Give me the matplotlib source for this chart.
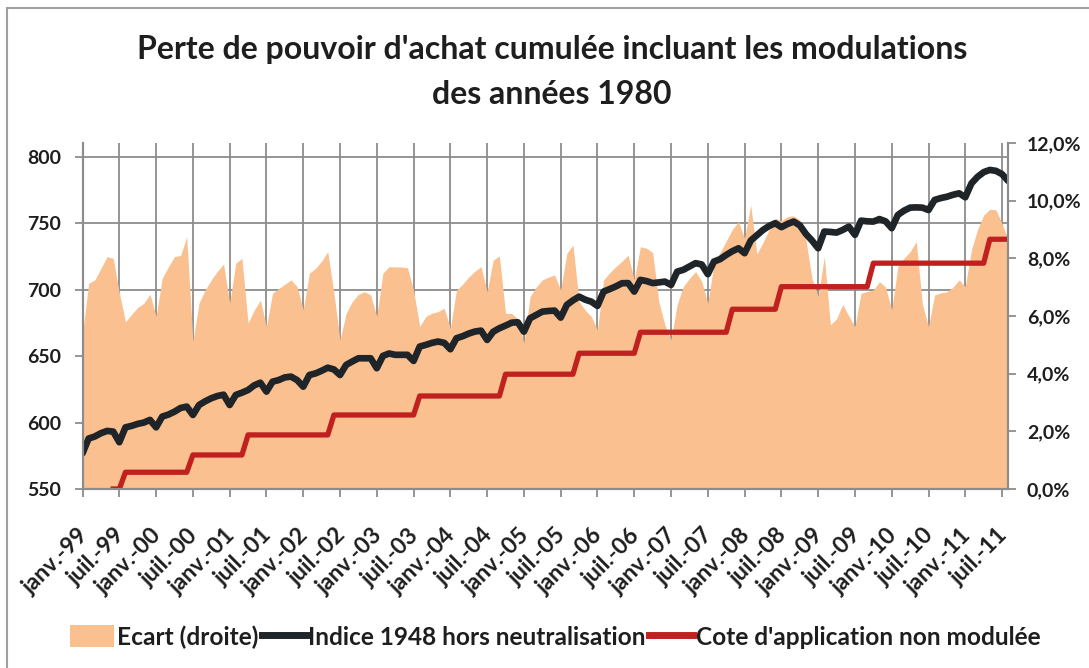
import numpy as np
import matplotlib
matplotlib.use("Agg")
import matplotlib.pyplot as plt
from matplotlib.patches import Patch, Rectangle
from matplotlib.lines import Line2D
from matplotlib.ticker import FuncFormatter
from matplotlib.transforms import ScaledTranslation

plt.rcParams["font.family"] = ["Lato", "DejaVu Sans"]
plt.rcParams["font.weight"] = "bold"

# valeurs mensuelles, janv. 1999 -> août 2011
indice_1948 = [
    576.9, 588.0, 589.5, 592.0, 593.7, 593.2, 585.2, 596.4, 597.5, 599.0, 600.0, 602.0,  # 1999
    596.4, 604.5, 606.0, 608.2, 611.0, 612.0, 605.7, 613.2, 616.0, 618.3, 620.0, 621.0,  # 2000
    613.2, 620.8, 622.5, 624.5, 628.0, 630.0, 623.3, 630.8, 632.0, 634.0, 634.6, 632.0,  # 2001
    627.0, 635.8, 637.0, 639.0, 641.3, 640.0, 635.8, 643.4, 646.0, 648.4, 648.4, 648.4,  # 2002
    640.9, 650.2, 652.0, 651.0, 651.0, 651.0, 646.4, 657.2, 658.5, 660.0, 661.0, 660.0,  # 2003
    655.2, 663.5, 665.0, 667.0, 668.5, 669.2, 662.2, 668.4, 671.0, 673.0, 675.2, 675.5,  # 2004
    668.4, 678.5, 681.0, 683.5, 684.0, 684.3, 679.0, 688.6, 692.0, 694.8, 692.5, 691.0,  # 2005
    687.8, 698.6, 700.5, 702.5, 704.9, 705.0, 698.6, 707.4, 706.5, 705.0, 705.5, 706.1,  # 2006
    703.6, 713.6, 715.0, 717.5, 720.0, 719.0, 711.7, 721.2, 723.0, 726.2, 729.0, 731.2,  # 2007
    727.5, 737.0, 741.0, 745.0, 748.0, 750.1, 747.1, 749.5, 751.3, 748.5, 742.0, 737.0,  # 2008
    731.2, 743.8, 743.5, 743.0, 745.0, 747.5, 741.3, 752.0, 751.5, 751.3, 753.2, 751.5,  # 2009
    746.3, 756.3, 759.5, 761.8, 762.0, 761.8, 760.0, 767.6, 769.0, 770.0, 771.5, 772.6,  # 2010
    769.6, 780.0, 785.0, 788.5, 790.2, 789.5, 787.0, 781.9,                              # 2011
]

ecart_pct = [
    5.40, 7.13, 7.25, 7.65, 8.06, 8.00, 6.80, 5.80, 6.05, 6.30, 6.44, 6.76,
    5.98, 7.31, 7.70, 8.06, 8.10, 8.75, 5.11, 6.44, 6.90, 7.25, 7.55, 7.80,
    6.44, 7.83, 8.00, 5.75, 6.20, 6.55, 5.63, 6.79, 6.95, 7.10, 7.25, 7.02,
    6.21, 7.48, 7.65, 7.90, 8.23, 6.80, 5.17, 6.09, 6.50, 6.75, 6.84, 6.73,
    5.98, 7.48, 7.71, 7.70, 7.70, 7.67, 6.90, 5.63, 5.98, 6.10, 6.15, 6.27,
    5.57, 6.90, 7.10, 7.35, 7.55, 7.71, 6.84, 7.94, 8.08, 6.09, 6.09, 5.90,
    5.05, 6.67, 7.00, 7.25, 7.35, 7.42, 6.90, 8.17, 8.46, 6.50, 6.20, 5.98,
    5.51, 7.25, 7.50, 7.71, 7.90, 8.11, 7.25, 8.40, 8.35, 8.20, 6.50, 5.69,
    5.17, 6.40, 7.02, 7.30, 7.54, 7.20, 6.44, 7.80, 8.20, 8.60, 9.00, 9.27,
    8.69, 9.85, 8.15, 8.55, 8.98, 9.39, 9.30, 9.45, 9.47, 9.33, 8.64, 7.30,
    6.67, 8.06, 5.69, 5.90, 6.40, 6.00, 5.63, 6.79, 6.85, 6.90, 7.19, 7.00,
    6.21, 7.71, 8.00, 8.23, 8.58, 6.40, 5.63, 6.73, 6.80, 6.84, 7.00, 7.25,
    7.02, 8.29, 9.00, 9.50, 9.70, 9.68, 9.20, 8.64,
]

# cote d'application : paliers et nombre de mois par palier (à partir de juin 1999)
cote_levels = [550.0, 562.6, 575.6, 590.7, 605.7, 620.0, 636.4, 652.2, 668.0, 685.3, 702.3, 720.0, 738.0]
cote_months = [2, 11, 9, 14, 14, 14, 12, 10, 15, 8, 15, 19, 4]
cote_start = 5

tick_labels = [
    "janv.-99", "juil.-99", "janv.-00", "juil.-00", "janv.-01", "juil.-01",
    "janv.-02", "juil.-02", "janv.-03", "juil.-03", "janv.-04", "juil.-04",
    "janv.-05", "juil.-05", "janv.-06", "juil.-06", "janv.-07", "juil.-07",
    "janv.-08", "juil.-08", "janv.-09", "juil.-09", "janv.-10", "juil.-10",
    "janv.-11", "juil.-11",
]

n = len(indice_1948)
months = np.arange(n)
cote = np.full(n, np.nan)
cote[cote_start:] = np.repeat(cote_levels, cote_months)

grey = "#8c8c8c"
txt = "#1e1e1e"

fig = plt.figure(figsize=(10.89, 6.68), dpi=100)
ax = fig.add_axes([0.0758, 0.268, 0.850, 0.518])
ax2 = ax.twinx()

ax.set_axisbelow(True)
ax.grid(True, color=grey, lw=1.3)
ax.fill_between(months, 0, ecart_pct, transform=ax2.transData,
                color="#FAC08F", lw=0, zorder=1)
ax.plot(months, cote, color="#C0211F", lw=3.8, zorder=3)
ax.plot(months, indice_1948, color="#1e2428", lw=4.8, zorder=4,
        solid_joinstyle="round", solid_capstyle="round")

ax.set_xlim(0, n - 1)
ax.set_ylim(550, 810.5)
ax.set_yticks(range(550, 801, 50))
ax2.set_ylim(0, 12)
ax2.set_yticks(range(0, 13, 2))
ax2.yaxis.set_major_formatter(FuncFormatter(lambda v, _: f"{v:.1f}".replace(".", ",") + "%"))

ax.set_xticks(range(0, n, 6))
ax.set_xticklabels(tick_labels, rotation=45, ha="right", va="center",
                   rotation_mode="anchor")

for a in (ax, ax2):
    a.spines["top"].set_visible(False)
    for s in ("left", "right", "bottom"):
        a.spines[s].set_color(grey)
        a.spines[s].set_linewidth(1.5)
    a.tick_params(direction="out", length=6, width=1.3, color=grey,
                  labelsize=14, labelcolor=txt)
ax.tick_params(axis="y", pad=9.5)
ax2.tick_params(axis="y", pad=7.5)
ax.tick_params(axis="x", pad=25, labelsize=16.5)
shift = ScaledTranslation(2 / 100, 0, fig.dpi_scale_trans)
for lbl in ax.get_xticklabels():
    lbl.set_transform(lbl.get_transform() + shift)

fig.text(0.507, 1 - 49 / 668, "Perte de pouvoir d'achat cumulée incluant les modulations",
         ha="center", va="center", fontsize=23, color=txt)
fig.text(0.507, 1 - 95 / 668, "des années 1980",
         ha="center", va="center", fontsize=23, color=txt)

handles = [
    Patch(facecolor="#FAC08F", edgecolor="none"),
    Line2D([], [], color="#1e2428", lw=5),
    Line2D([], [], color="#C0211F", lw=5),
]
names = ["Ecart (droite)", "Indice 1948 hors neutralisation", "Cote d'application non modulée"]
fig.legend(handles, names, loc="center", bbox_to_anchor=(0.51, 1 - 637 / 668), ncol=3,
           frameon=False, fontsize=17.6, handlelength=1.8, handleheight=1.0,
           handletextpad=0.12, columnspacing=0.12, labelcolor=txt)

fig.patches.append(Rectangle((7 / 1089, -0.1), 1.2, 1.1 - 8 / 668, transform=fig.transFigure,
                             fill=False, edgecolor="#a0a0a0", lw=1.5, zorder=-1))

fig.savefig("out.png", dpi=100, facecolor="white")
